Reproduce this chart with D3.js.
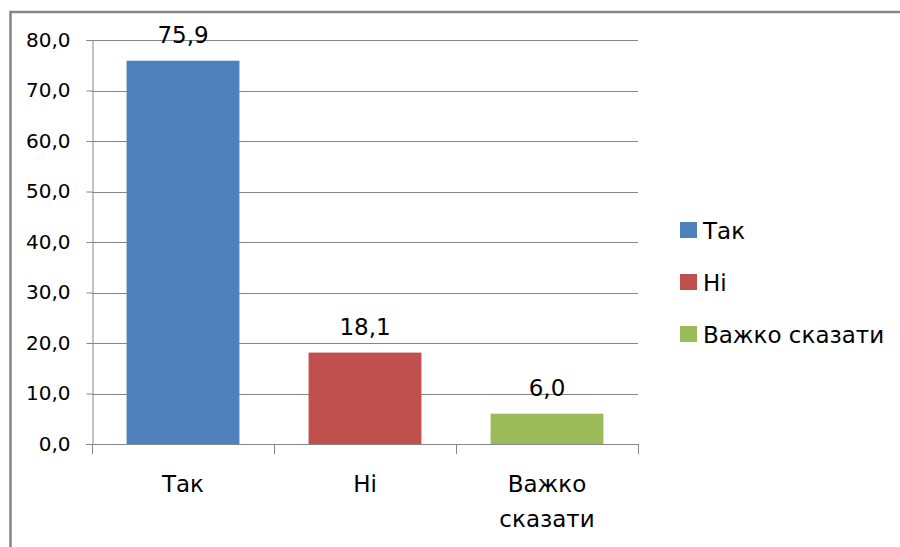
<!DOCTYPE html>
<html>
<head>
<meta charset="utf-8">
<script src="https://cdn.jsdelivr.net/npm/d3@7"></script>
<style>
  body { margin: 0; background: #fff; }
  svg { display: block; font-family: "DejaVu Sans", Verdana, sans-serif; }
</style>
</head>
<body>
<div id="chart"></div>
<script>
// data
var categories = ["Так", "Ні", "Важко сказати"];
var values = [75.9, 18.1, 6.0];
var colors = ["#4F81BD", "#C0504D", "#9BBB59"];
var yTicks = [0, 10, 20, 30, 40, 50, 60, 70, 80];

function drawChart(element) {
    d3.select(element).html(null);

    var width = 900, height = 547;
    var plot = { left: 92, right: 638, top: 40, bottom: 444 };

    var svg = d3.select(element)
        .append("svg")
        .attr("width", width)
        .attr("height", height);

    // outer frame (runs off the right/bottom edge)
    svg.append("rect")
        .attr("x", 10.5)
        .attr("y", 12)
        .attr("width", 1000)
        .attr("height", 1000)
        .attr("fill", "none")
        .attr("stroke", "#868686")
        .attr("stroke-width", 2.5);

    var x = d3.scaleBand()
        .domain(categories)
        .range([plot.left, plot.right])
        .paddingInner(0.38)
        .paddingOuter(0.19);

    var y = d3.scaleLinear()
        .domain([0, 80])
        .range([plot.bottom, plot.top]);

    // gridlines
    svg.append("g")
        .selectAll("line")
        .data(yTicks.slice(1))
        .enter()
        .append("line")
        .attr("x1", plot.left)
        .attr("x2", plot.right)
        .attr("y1", function (d) { return Math.round(y(d)) + 0.5; })
        .attr("y2", function (d) { return Math.round(y(d)) + 0.5; })
        .attr("stroke", "#868686")
        .attr("stroke-width", 1);

    // y axis
    var yAxis = svg.append("g")
        .attr("transform", "translate(" + (plot.left + 0.5) + ",0)")
        .call(d3.axisLeft(y)
            .tickValues(yTicks)
            .tickSize(6)
            .tickPadding(16)
            .tickFormat(function (d) { return d3.format(".1f")(d).replace(".", ","); }));
    yAxis.select(".domain").attr("stroke", "#868686");
    yAxis.selectAll(".tick line").attr("stroke", "#868686");
    yAxis.selectAll(".tick text")
        .attr("font-size", 20)
        .attr("font-family", "DejaVu Sans, sans-serif")
        .attr("fill", "#000");

    // bars
    svg.append("g")
        .selectAll("rect")
        .data(values)
        .enter()
        .append("rect")
        .attr("x", function (d, i) { return x(categories[i]); })
        .attr("y", function (d) { return y(d); })
        .attr("width", x.bandwidth())
        .attr("height", function (d) { return y(0) - y(d); })
        .attr("fill", function (d, i) { return colors[i]; });

    // x axis
    var step = x.step();
    var xg = svg.append("g");
    xg.append("line")
        .attr("x1", plot.left)
        .attr("x2", plot.right)
        .attr("y1", plot.bottom + 0.5)
        .attr("y2", plot.bottom + 0.5)
        .attr("stroke", "#868686");
    xg.selectAll(".xtick")
        .data(d3.range(categories.length + 1))
        .enter()
        .append("line")
        .attr("class", "xtick")
        .attr("x1", function (d) { return Math.round(plot.left + d * (plot.right - plot.left) / categories.length) + 0.5; })
        .attr("x2", function (d) { return Math.round(plot.left + d * (plot.right - plot.left) / categories.length) + 0.5; })
        .attr("y1", plot.bottom)
        .attr("y2", plot.bottom + 10)
        .attr("stroke", "#868686");

    var xLabels = [["Так"], ["Ні"], ["Важко", "сказати"]];
    xg.selectAll(".xlabel")
        .data(xLabels)
        .enter()
        .append("text")
        .attr("class", "xlabel")
        .attr("text-anchor", "middle")
        .attr("font-size", 23)
        .attr("fill", "#000")
        .attr("x", function (d, i) { return x(categories[i]) + x.bandwidth() / 2; })
        .attr("y", plot.bottom + 48)
        .each(function (d) {
            var t = d3.select(this);
            d.forEach(function (line, k) {
                t.append("tspan")
                    .attr("x", t.attr("x"))
                    .attr("dy", k === 0 ? 0 : 35)
                    .text(line);
            });
        });

    // value labels
    svg.append("g")
        .selectAll("text")
        .data(values)
        .enter()
        .append("text")
        .attr("text-anchor", "middle")
        .attr("font-size", 23)
        .attr("fill", "#000")
        .attr("x", function (d, i) { return x(categories[i]) + x.bandwidth() / 2; })
        .attr("y", function (d) { return y(d) - 18; })
        .text(function (d) { return d3.format(".1f")(d).replace(".", ","); });

    // legend
    var legend = svg.append("g")
        .selectAll("g")
        .data(categories)
        .enter()
        .append("g")
        .attr("transform", function (d, i) { return "translate(680," + (222 + i * 52) + ")"; });
    legend.append("rect")
        .attr("width", 17)
        .attr("height", 16)
        .attr("fill", function (d, i) { return colors[i]; });
    legend.append("text")
        .attr("x", 23)
        .attr("y", 17)
        .attr("font-size", 23)
        .attr("fill", "#000")
        .text(function (d) { return d; });
}

drawChart(document.getElementById("chart"));
</script>
</body>
</html>
